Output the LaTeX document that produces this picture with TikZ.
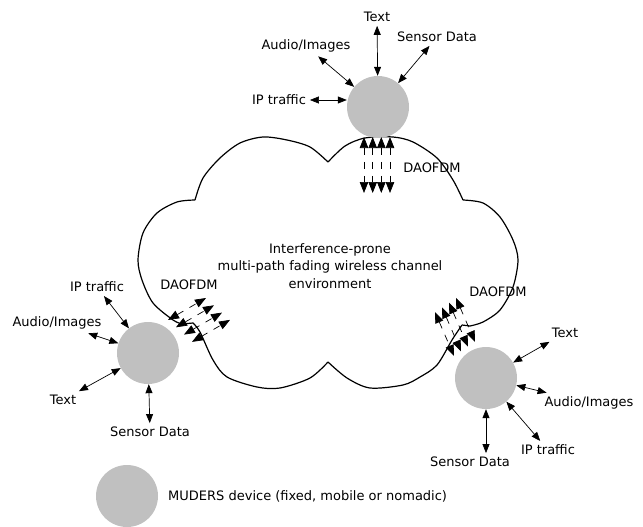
\documentclass[tikz,border=0pt]{standalone}
\usepackage{fontspec}
\setmainfont{DejaVu Sans}
\usetikzlibrary{positioning,arrows.meta}
\definecolor{cdisp}{HTML}{C0C0C0}
\tikzset{
  equipo/.style={circle, fill=cdisp, minimum size=62pt, inner sep=0pt},
  etq/.style={font=\fontsize{13}{15}\selectfont, inner sep=1pt, outer sep=3pt},
  flecha/.style={{Triangle[length=9pt,width=7pt]}-{Triangle[length=9pt,width=7pt]}, line width=0.7pt},
  rafaga/.style={{Triangle[length=11pt,width=8.5pt]}-{Triangle[length=11pt,width=8.5pt]}, dash pattern=on 7pt off 7pt, line width=0.7pt},
  nube/.style={line width=1.2pt},
}

\begin{document}
\begin{tikzpicture}[x=1pt, y=-1pt, node distance=6pt]
  \useasboundingbox (0,0) rectangle (643,527);
  \draw[nube] plot[smooth] coordinates {(195,200) (203,178) (220,158) (240,143) (263,137) (287,140) (310,147) (328,162)}
    plot[smooth] coordinates {(328,162) (345,146) (365,138) (393,137) (413,142) (437,158) (453,180) (463,200)}
    plot[smooth] coordinates {(463,200) (483,203) (500,217) (513,240) (518,260) (513,287) (500,310) (483,322) (470,326)}
    -- (462,325)
    plot[smooth] coordinates {(462,325) (452,340) (437,365) (420,377) (403,385) (370,388) (347,378) (328,362)}
    plot[smooth] coordinates {(328,362) (310,378) (280,388) (257,387) (227,377) (213,360) (200,332) (193,323)}
    -- (182,324)
    plot[smooth] coordinates {(182,324) (173,320) (153,303) (142,280) (138,260) (143,233) (157,213) (177,202) (195,200)};
  \node[etq, align=center, font=\fontsize{13}{17.5}\selectfont] (canal) at (330,266)
    {Interference-prone\\multi-path fading wireless channel\\environment};

  \node[equipo] (dsup) at (378,107) {};
  \node[etq] (sTexto) at (377,17) {Text};
  \node[etq] (sAudio) at (306,46) {Audio/Images};
  \node[etq] (sSensor) at (437,37) {Sensor Data};
  \node[etq] (sIP) at (279,100) {IP traffic};
  \draw[flecha] (sTexto) -- (dsup);
  \draw[flecha] (sAudio) -- (dsup);
  \draw[flecha] (sSensor) -- (dsup);
  \draw[flecha] (sIP.east) -- (sIP.east -| dsup.west);

  \node[equipo] (dizq) at (148,353) {};
  \node[etq] (iIP) at (97,287) {IP traffic};
  \node[etq] (iAudio) at (57,323) {Audio/Images};
  \node[etq] (iTexto) at (63,400) {Text};
  \node[etq] (iSensor) at (150,432) {Sensor Data};
  \draw[flecha] (iIP) -- (dizq);
  \draw[flecha] (iAudio) -- (dizq);
  \draw[flecha] (iTexto) -- (dizq);
  \draw[flecha] (iSensor) -- (dizq);

  \node[equipo] (dder) at (486,378) {};
  \node[etq] (dTexto) at (565,333) {Text};
  \node[etq] (dAudio) at (589,403) {Audio/Images};
  \node[etq] (dIP) at (548,450) {IP traffic};
  \node[etq] (dSensor) at (470,462) {Sensor Data};
  \draw[flecha] (dTexto) -- (dder);
  \draw[flecha] (dAudio) -- (dder);
  \draw[flecha] (dIP) -- (dder);
  \draw[flecha] (dder) -- (dder |- dSensor.north);

  \foreach \x in {364,372.7,381.3,390}
    \draw[rafaga] (\x,137) -- (\x,193);
  \foreach \i in {0,...,3}
    \draw[rafaga, shift={(\i*8,\i*7.3)}] (168,320) -- ++(38,-22);
  \foreach \i in {0,...,3}
    \draw[rafaga, shift={(\i*7,-\i*4.7)}] (435,312) -- ++(19,44);
  \node[etq] (ofdmSup) at (432,168) {DAOFDM};
  \node[etq] (ofdmIzq) at (189,285) {DAOFDM};
  \node[etq] (ofdmDer) at (498,292) {DAOFDM};

  \node[equipo] (leyenda) at (127,496) {};
  \node[etq, right=of leyenda] (leyTexto) {MUDERS device (fixed, mobile or nomadic)};
\end{tikzpicture}
\end{document}
